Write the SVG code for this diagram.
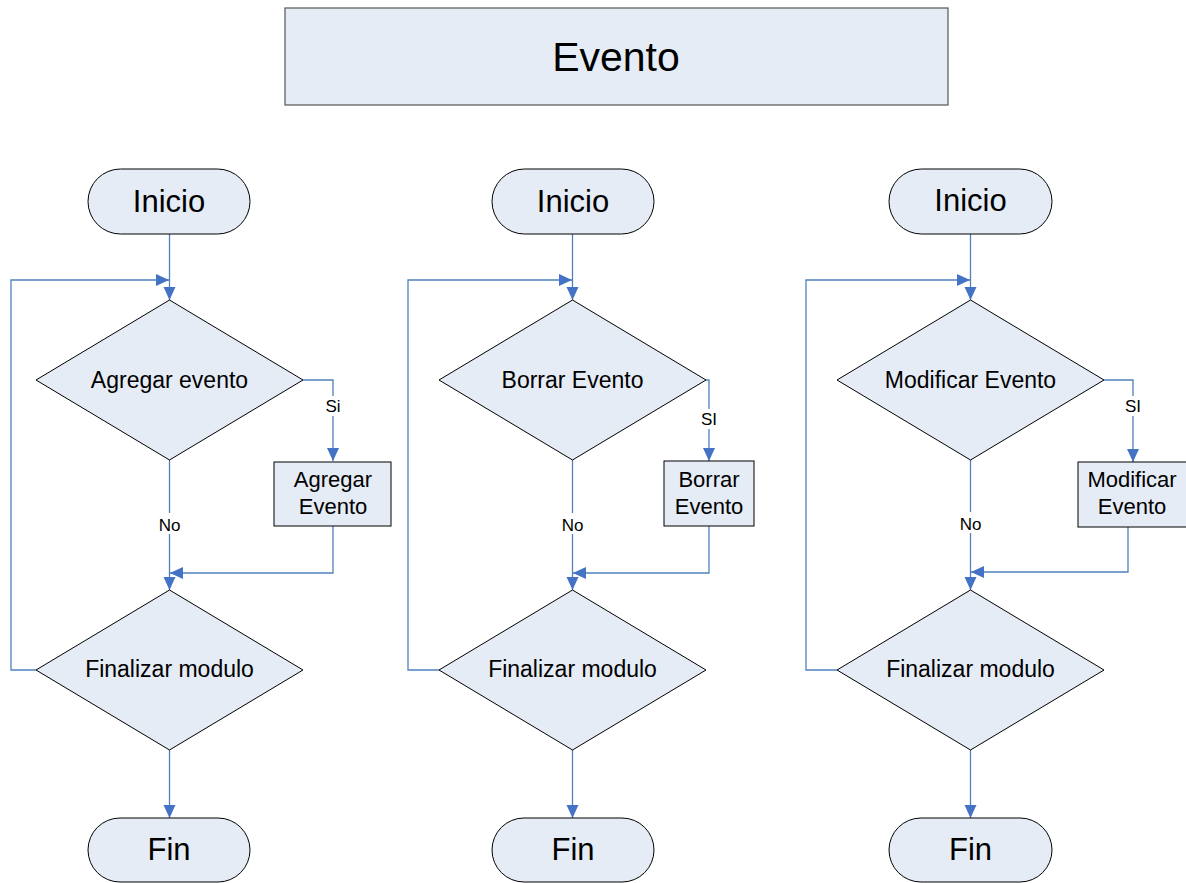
<svg xmlns="http://www.w3.org/2000/svg" width="1186" height="883" viewBox="0 0 1186 883">
<defs>
<style>
.shape{fill:#E6ECF6;stroke:#000;stroke-width:1}
.title{fill:#E6ECF6;stroke:#555;stroke-width:1.2}
.t{font-family:"Liberation Sans",Arial,sans-serif;fill:#000;text-anchor:middle}
.term{font-size:31px}
.dec{font-size:23px}
.box{font-size:22px}
.lbl{font-size:17px}
.conn{fill:none;stroke:#4F81BD;stroke-width:1.3}
.bg{fill:#fff}
</style>
<marker id="arr" markerWidth="14" markerHeight="14" refX="13" refY="7" orient="auto" markerUnits="userSpaceOnUse">
<path d="M0,1 L13,7 L0,13 Z" fill="#4472C4"/>
</marker>
</defs>
<rect width="1186" height="883" fill="#fff"/>

<g id="title">
<rect class="title" x="285" y="8" width="663" height="97"/>
<text class="t" x="616" y="71" font-size="41">Evento</text>
</g>

<g id="connectors">
<!-- column 1 -->
<path class="conn" d="M169.5,234 V300" marker-end="url(#arr)"/>
<path class="conn" d="M36,670 H11 V280 H169" marker-end="url(#arr)"/>
<path class="conn" d="M303,380 H333 V461" marker-end="url(#arr)"/>
<path class="conn" d="M333,526 V573 H170" marker-end="url(#arr)"/>
<path class="conn" d="M169.5,460 V590" marker-end="url(#arr)"/>
<path class="conn" d="M169.5,750 V818" marker-end="url(#arr)"/>
<!-- column 2 -->
<path class="conn" d="M572.5,234 V300" marker-end="url(#arr)"/>
<path class="conn" d="M439,670 H408 V280 H572" marker-end="url(#arr)"/>
<path class="conn" d="M706,380 H709 V461" marker-end="url(#arr)"/>
<path class="conn" d="M709,526 V573 H573" marker-end="url(#arr)"/>
<path class="conn" d="M572.5,460 V590" marker-end="url(#arr)"/>
<path class="conn" d="M572.5,750 V818" marker-end="url(#arr)"/>
<!-- column 3 -->
<path class="conn" d="M970.5,234 V300" marker-end="url(#arr)"/>
<path class="conn" d="M837,670 H806 V280 H970" marker-end="url(#arr)"/>
<path class="conn" d="M1104,380 H1133 V462" marker-end="url(#arr)"/>
<path class="conn" d="M1128,527 V572 H971" marker-end="url(#arr)"/>
<path class="conn" d="M970.5,460 V590" marker-end="url(#arr)"/>
<path class="conn" d="M970.5,750 V818" marker-end="url(#arr)"/>
<!-- labels -->
<rect class="bg" x="323" y="396" width="20" height="20"/>
<text class="t lbl" x="333" y="412">Si</text>
<rect class="bg" x="155" y="513" width="29" height="21"/>
<text class="t lbl" x="169.5" y="531">No</text>
<rect class="bg" x="698" y="409" width="22" height="20"/>
<text class="t lbl" x="709" y="425">SI</text>
<rect class="bg" x="558" y="513" width="29" height="21"/>
<text class="t lbl" x="572.5" y="531">No</text>
<rect class="bg" x="1122" y="396" width="22" height="20"/>
<text class="t lbl" x="1133" y="412">SI</text>
<rect class="bg" x="956" y="512" width="29" height="21"/>
<text class="t lbl" x="970.5" y="530">No</text>
</g>

<g id="inicio1">
<rect class="shape" x="88" y="169" width="162" height="65" rx="32.5"/>
<text class="t term" x="169" y="212">Inicio</text>
</g>
<g id="decision1a">
<polygon class="shape" points="169.5,300 303,380 169.5,460 36,380"/>
<text class="t dec" x="169.5" y="388">Agregar evento</text>
</g>
<g id="proceso1">
<rect class="shape" x="274" y="462" width="117" height="64"/>
<text class="t box" x="333" y="487">Agregar</text>
<text class="t box" x="333" y="514">Evento</text>
</g>
<g id="decision1b">
<polygon class="shape" points="169.5,590 303,670 169.5,750 36,670"/>
<text class="t dec" x="169.5" y="677">Finalizar modulo</text>
</g>
<g id="fin1">
<rect class="shape" x="88" y="818" width="162" height="64" rx="32"/>
<text class="t term" x="169" y="860">Fin</text>
</g>

<g id="inicio2">
<rect class="shape" x="492" y="169" width="162" height="65" rx="32.5"/>
<text class="t term" x="573" y="212">Inicio</text>
</g>
<g id="decision2a">
<polygon class="shape" points="572.5,300 706,380 572.5,460 439,380"/>
<text class="t dec" x="572.5" y="388">Borrar Evento</text>
</g>
<g id="proceso2">
<rect class="shape" x="664" y="461" width="90" height="65"/>
<text class="t box" x="709" y="487">Borrar</text>
<text class="t box" x="709" y="514">Evento</text>
</g>
<g id="decision2b">
<polygon class="shape" points="572.5,590 706,670 572.5,750 439,670"/>
<text class="t dec" x="572.5" y="677">Finalizar modulo</text>
</g>
<g id="fin2">
<rect class="shape" x="492" y="818" width="162" height="64" rx="32"/>
<text class="t term" x="573" y="860">Fin</text>
</g>

<g id="inicio3">
<rect class="shape" x="889" y="169" width="163" height="65" rx="32.5"/>
<text class="t term" x="970.5" y="211">Inicio</text>
</g>
<g id="decision3a">
<polygon class="shape" points="970.5,300 1104,380 970.5,460 837,380"/>
<text class="t dec" x="970.5" y="388">Modificar Evento</text>
</g>
<g id="proceso3">
<rect class="shape" x="1078" y="462" width="110" height="65"/>
<text class="t box" x="1132" y="487">Modificar</text>
<text class="t box" x="1132" y="514">Evento</text>
</g>
<g id="decision3b">
<polygon class="shape" points="970.5,590 1104,670 970.5,750 837,670"/>
<text class="t dec" x="970.5" y="677">Finalizar modulo</text>
</g>
<g id="fin3">
<rect class="shape" x="889" y="818" width="163" height="64" rx="32"/>
<text class="t term" x="970.5" y="860">Fin</text>
</g>
</svg>
